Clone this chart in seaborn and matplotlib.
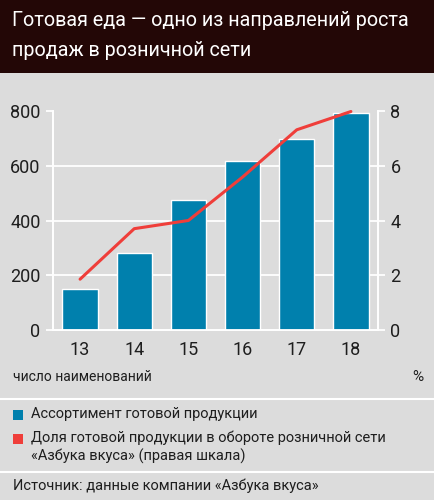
import numpy as np
import pandas as pd
import matplotlib.pyplot as plt
import seaborn as sns
from matplotlib.patches import Rectangle
from matplotlib.lines import Line2D

# data
years = ["13", "14", "15", "16", "17", "18"]
assortment = [150, 282, 477, 618, 700, 795]
share = [1.86, 3.71, 4.01, 5.6, 7.33, 8.0]
left_ticks = [0, 200, 400, 600, 800]
right_ticks = [0, 2, 4, 6, 8]

BG = "#dcdcdc"
HEAD = "#230706"
BLUE = "#0080ad"
RED = "#ef3e3a"
TXT = "#1e1e1e"

sns.set_theme(style="white")
plt.rcParams["font.family"] = ["Roboto", "DejaVu Sans"]

W, H = 435, 500
fig = plt.figure(figsize=(W / 100, H / 100), dpi=100, facecolor=BG)


def fx(px):
    return px / W


def fy(py):
    return 1 - py / H


# header band
fig.patches.append(Rectangle((0, fy(73)), 1, 73 / H, transform=fig.transFigure,
                             facecolor=HEAD, edgecolor="none", zorder=0))
fig.text(fx(12), fy(21), "Готовая еда — одно из направлений роста", color="white",
         fontsize=14.2, va="center", ha="left")
fig.text(fx(12), fy(50), "продаж в розничной сети", color="white",
         fontsize=14.2, va="center", ha="left")

# main axes
ax = fig.add_axes([fx(53), fy(330), fx(378) - fx(53), fy(111.5) - fy(330)])
ax.set_facecolor(BG)
df = pd.DataFrame({"year": years, "assortment": assortment, "share": share})
sns.barplot(data=df, x="year", y="assortment", color=BLUE, saturation=1,
            width=0.65, ax=ax, zorder=3)
ax.set_xlim(-0.5, len(years) - 0.5)
ax.set_ylim(0, 800)
ax.set_yticks(left_ticks)
ax.yaxis.grid(True, color="white", linewidth=1.3, zorder=0)
ax.set_axisbelow(True)
ax.set_xlabel("")
ax.set_ylabel("")
ax.spines["top"].set_visible(False)
for s in ["left", "right", "bottom"]:
    ax.spines[s].set_color("white")
    ax.spines[s].set_linewidth(1.3)
ax.set_xticks(np.arange(len(years)))
ax.set_xticklabels(years)
ax.set_xticks(np.arange(-0.5, len(years)), minor=True)
ax.tick_params(axis="x", which="major", length=0, pad=8, labelsize=13, labelcolor=TXT)
ax.tick_params(axis="x", which="minor", length=5, width=1.3, color="white", direction="out")
ax.tick_params(axis="y", length=5, width=1.3, color="white", direction="out",
               labelsize=13, labelcolor=TXT, pad=4)

ax2 = ax.twinx()
sns.lineplot(x=np.arange(len(years)), y=share, color=RED, linewidth=2.2, ax=ax2,
             clip_on=False, zorder=5)
ax2.set_ylim(0, 8)
ax2.set_yticks(right_ticks)
ax2.set_xlim(-0.5, len(years) - 0.5)
ax2.spines["top"].set_visible(False)
for s in ["left", "right", "bottom"]:
    ax2.spines[s].set_color("white")
    ax2.spines[s].set_linewidth(1.3)
ax2.tick_params(axis="y", length=5, width=1.3, color="white", direction="out",
                labelsize=13, labelcolor=TXT, pad=4)

# axis captions
fig.text(fx(13), fy(377), "число наименований", fontsize=10, color=TXT, va="center")
fig.text(fx(423), fy(377), "%", fontsize=11, color=TXT, va="center", ha="right")

# separators
for py in [399, 472]:
    fig.add_artist(Line2D([0, 1], [fy(py), fy(py)], color="white", linewidth=1.5))

# legend
fig.patches.append(Rectangle((fx(13), fy(420)), 10 / W, 10 / H, transform=fig.transFigure,
                             facecolor=BLUE, edgecolor="none"))
fig.text(fx(31), fy(414), "Ассортимент готовой продукции", fontsize=10.5, color=TXT,
         va="center")
fig.patches.append(Rectangle((fx(13), fy(444)), 10 / W, 10 / H, transform=fig.transFigure,
                             facecolor=RED, edgecolor="none"))
fig.text(fx(31), fy(438), "Доля готовой продукции в обороте розничной сети", fontsize=10.5,
         color=TXT, va="center")
fig.text(fx(31), fy(456), "«Азбука вкуса» (правая шкала)", fontsize=10.5, color=TXT,
         va="center")

fig.text(fx(13), fy(486), "Источник: данные компании «Азбука вкуса»", fontsize=10.5,
         color=TXT, va="center")

fig.savefig("out.png", dpi=100, facecolor=BG)
